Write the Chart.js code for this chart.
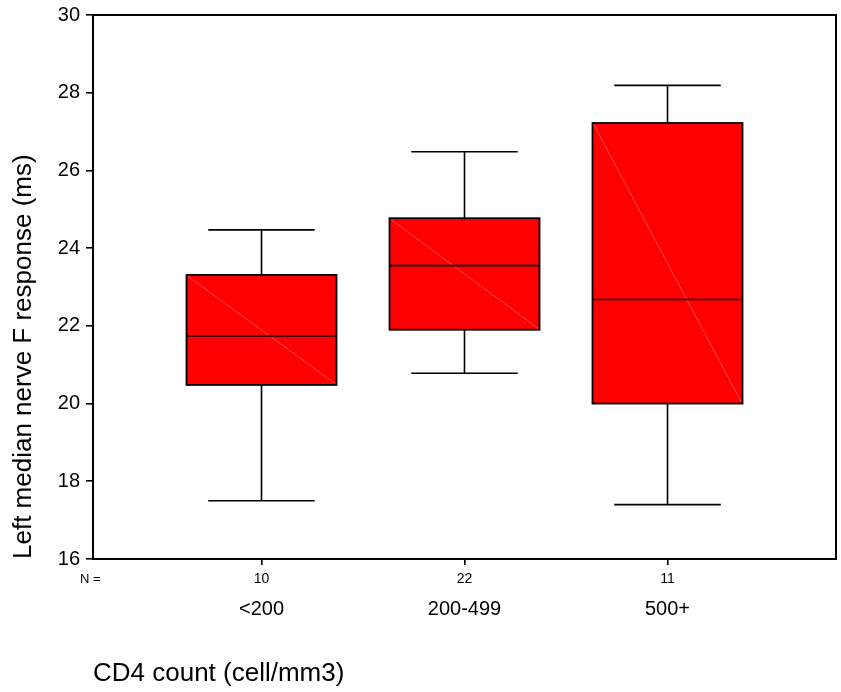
<!DOCTYPE html>
<html><head><meta charset="utf-8">
<script src="https://cdn.jsdelivr.net/npm/chart.js@4.4.1/dist/chart.umd.min.js"></script>
<style>html,body{margin:0;padding:0;background:#fff}#w{width:841px;height:692px}</style>
</head><body><div id="w"><canvas id="c"></canvas></div>
<script>
const categories = ['<200', '200-499', '500+'];
const counts = [10, 22, 11];
const whiskerLow = [17.5, 20.78, 17.4];
const q1 = [20.48, 21.9, 20.0];
const median = [21.74, 23.55, 22.68];
const q3 = [23.31, 24.77, 27.22];
const whiskerHigh = [24.47, 26.48, 28.19];
const yTicks = [16, 18, 20, 22, 24, 26, 28, 30];

const FONT = 'Liberation Sans, Arial, sans-serif';

const boxPlugin = {
  id: 'boxExtras',
  afterDatasetsDraw(chart) {
    const {ctx, chartArea, scales: {x, y}} = chart;
    const meta = chart.getDatasetMeta(0);
    ctx.save();
    meta.data.forEach((bar, i) => {
      const cx = x.getPixelForValue(i + 1);
      const half = bar.width / 2;
      const capHalf = half * 0.71;
      const yq1 = y.getPixelForValue(q1[i]);
      const yq3 = y.getPixelForValue(q3[i]);
      ctx.strokeStyle = 'rgba(255,140,140,0.9)';
      ctx.lineWidth = 0.6;
      ctx.beginPath();
      ctx.moveTo(cx - half + 1, yq3 + 1);
      ctx.lineTo(cx + half - 1, yq1 - 1);
      ctx.stroke();
      ctx.strokeStyle = '#000';
      ctx.lineWidth = 1.6;
      const ym = y.getPixelForValue(median[i]);
      ctx.beginPath();
      ctx.moveTo(cx - half, ym); ctx.lineTo(cx + half, ym);
      const yl = y.getPixelForValue(whiskerLow[i]);
      const yh = y.getPixelForValue(whiskerHigh[i]);
      ctx.moveTo(cx, yq3); ctx.lineTo(cx, yh);
      ctx.moveTo(cx, yq1); ctx.lineTo(cx, yl);
      ctx.moveTo(cx - capHalf, yh); ctx.lineTo(cx + capHalf, yh);
      ctx.moveTo(cx - capHalf, yl); ctx.lineTo(cx + capHalf, yl);
      ctx.stroke();
      ctx.lineWidth = 1.8;
      ctx.strokeRect(cx - half, yq3, half * 2, yq1 - yq3);
    });
    ctx.lineWidth = 2;
    ctx.strokeStyle = '#000';
    ctx.strokeRect(chartArea.left, chartArea.top, chartArea.right - chartArea.left, chartArea.bottom - chartArea.top);
    ctx.fillStyle = '#000';
    ctx.font = '14px ' + FONT;
    ctx.textBaseline = 'middle';
    ctx.textAlign = 'center';
    counts.forEach((n, i) => {
      ctx.fillText(String(n), x.getPixelForValue(i + 1), chartArea.bottom + 20);
    });
    ctx.textAlign = 'left';
    ctx.font = '13px ' + FONT;
    ctx.fillText('N =', chartArea.left - 13, chartArea.bottom + 20);
    ctx.restore();
  }
};

new Chart(document.getElementById('c'), {
  type: 'bar',
  data: {
    datasets: [{
      data: categories.map((c, i) => ({x: i + 1, y: [q1[i], q3[i]]})),
      backgroundColor: '#ff0000',
      borderWidth: 0,
      barThickness: 150
    }]
  },
  options: {
    responsive: true,
    maintainAspectRatio: false,
    animation: false,
    layout: {padding: {left: 0, right: 5, top: 0, bottom: 0}},
    plugins: {legend: {display: false}, tooltip: {enabled: false}},
    scales: {
      x: {
        type: 'linear',
        offset: false,
        min: 0.17,
        max: 3.83,
        afterBuildTicks: (s) => { s.ticks = categories.map((c, i) => ({value: i + 1})); },
        afterFit: (s) => { s.height = 133; },
        ticks: {
          callback: (v) => categories[v - 1] || '',
          color: '#000',
          font: {family: FONT, size: 20},
          padding: 32,
          maxRotation: 0,
          autoSkip: false
        },
        grid: {display: true, offset: false, drawOnChartArea: false, drawTicks: true, tickLength: 6, color: '#000', lineWidth: 1.6},
        border: {display: true, color: '#000', width: 2},
        title: {
          display: true,
          text: 'CD4 count (cell/mm3)',
          align: 'start',
          color: '#000',
          font: {family: FONT, size: 26},
          padding: {top: 0, bottom: 3}
        }
      },
      y: {
        min: 16,
        max: 30,
        afterBuildTicks: (s) => { s.ticks = yTicks.map(v => ({value: v})); },
        afterFit: (s) => { s.width = 93; s.paddingTop = 15; },
        ticks: {
          color: '#000',
          font: {family: FONT, size: 20, lineHeight: 1.2},
          padding: 6
        },
        grid: {display: true, drawOnChartArea: false, drawTicks: true, tickLength: 7, color: '#000', lineWidth: 1.6},
        border: {display: true, color: '#000', width: 2},
        title: {
          display: true,
          text: 'Left median nerve F response (ms)',
          align: 'start',
          color: '#000',
          font: {family: FONT, size: 26},
          padding: {top: 8, bottom: 0}
        }
      }
    }
  },
  plugins: [boxPlugin]
});
</script>
</body></html>
